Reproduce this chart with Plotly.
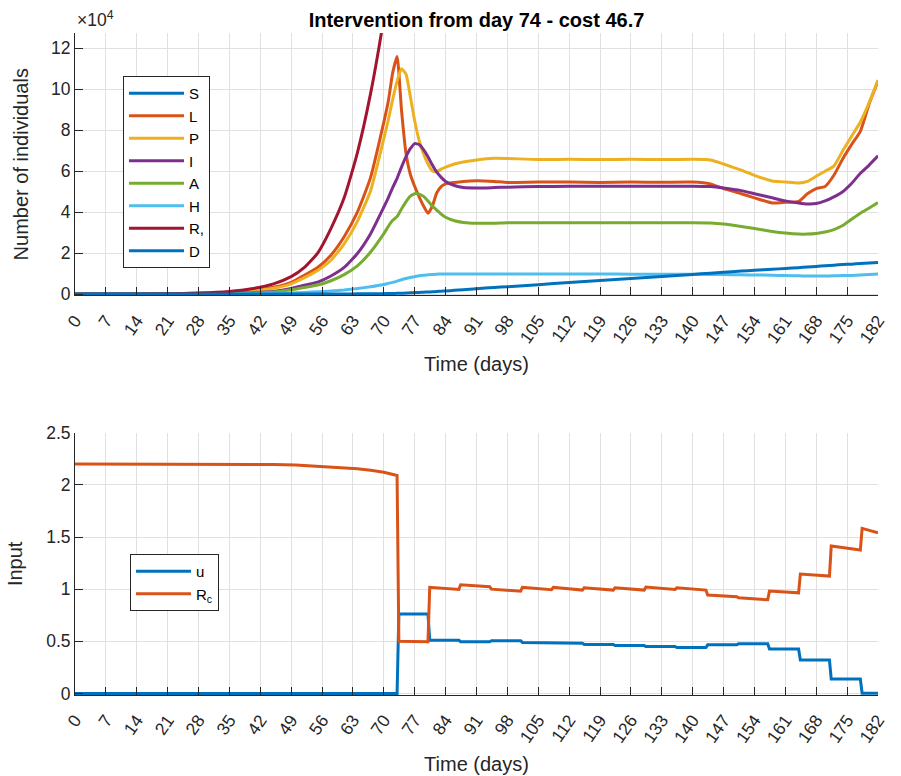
import numpy as np
import plotly.graph_objects as go

# ---------------- data (top panel) ----------------
days = [0, 7, 14, 21, 28, 35, 40, 45, 49, 52, 55, 58, 61, 64, 67, 70, 71, 72, 73, 74,
        75, 76, 77, 78, 79, 80, 81, 82, 83, 84, 86, 88, 91, 95, 98, 105, 112, 119, 126,
        133, 140, 144, 147, 151, 154, 158, 161, 164, 166, 168, 170, 172, 174, 176, 178,
        180, 182]

S_vals = [6.0e7] * len(days)  # susceptible: far above the visible range

# the following are read in units of 10^4 individuals
L_vals = [0.001, 0.002, 0.006, 0.014, 0.036, 0.09, 0.17, 0.33, 0.57, 0.92, 1.3, 1.9, 2.8,
          4.0, 5.7, 8.4, 9.4, 10.8, 11.6, 9.0, 6.9, 5.85, 5.25, 4.75, 4.3, 3.95, 4.3, 4.95,
          5.25, 5.38, 5.45, 5.5, 5.53, 5.5, 5.45, 5.47, 5.47, 5.45, 5.47, 5.46, 5.47, 5.38,
          5.15, 4.9, 4.7, 4.45, 4.48, 4.52, 4.9, 5.15, 5.25, 5.8, 6.6, 7.3, 7.95, 9.3, 10.4]

P_vals = [0.0008, 0.002, 0.005, 0.012, 0.03, 0.075, 0.14, 0.28, 0.5, 0.8, 1.15, 1.65, 2.45,
          3.55, 5.05, 7.6, 8.5, 9.5, 10.4, 11.0, 10.75, 9.65, 8.45, 7.5, 6.85, 6.35, 6.02,
          5.98, 6.1, 6.2, 6.35, 6.45, 6.55, 6.63, 6.62, 6.57, 6.58, 6.57, 6.58, 6.57, 6.58,
          6.55, 6.35, 6.05, 5.8, 5.52, 5.47, 5.42, 5.5, 5.75, 6.0, 6.25, 7.0, 7.7, 8.4, 9.35,
          10.45]

I_vals = [0.0003, 0.001, 0.002, 0.005, 0.012, 0.03, 0.065, 0.13, 0.27, 0.43, 0.58, 0.88, 1.3,
          1.98, 2.95, 4.25, 4.7, 5.2, 5.65, 6.2, 6.7, 7.1, 7.35, 7.3, 7.05, 6.7, 6.3, 5.95,
          5.7, 5.5, 5.3, 5.2, 5.18, 5.2, 5.22, 5.25, 5.26, 5.27, 5.27, 5.27, 5.27, 5.25, 5.18,
          5.05, 4.9, 4.7, 4.55, 4.45, 4.4, 4.42, 4.55, 4.75, 5.0, 5.4, 5.9, 6.3, 6.75]

A_vals = [0.0002, 0.0008, 0.002, 0.004, 0.01, 0.025, 0.05, 0.1, 0.21, 0.32, 0.44, 0.65, 0.95,
          1.38, 2.05, 2.95, 3.3, 3.6, 3.78, 4.15, 4.5, 4.78, 4.9, 4.88, 4.77, 4.55, 4.3, 4.1,
          3.9, 3.75, 3.58, 3.5, 3.46, 3.46, 3.48, 3.48, 3.48, 3.48, 3.48, 3.48, 3.48, 3.47,
          3.42, 3.3, 3.2, 3.06, 2.98, 2.93, 2.93, 2.96, 3.03, 3.15, 3.35, 3.65, 3.95, 4.2, 4.47]

H_vals = [0.0, 0.0, 0.0005, 0.001, 0.003, 0.008, 0.015, 0.03, 0.05, 0.08, 0.11, 0.15, 0.2,
          0.27, 0.36, 0.47, 0.52, 0.57, 0.63, 0.7, 0.76, 0.81, 0.85, 0.89, 0.92, 0.94, 0.96,
          0.97, 0.98, 0.98, 0.98, 0.98, 0.98, 0.98, 0.98, 0.98, 0.98, 0.98, 0.97, 0.97, 0.97,
          0.96, 0.95, 0.94, 0.93, 0.92, 0.9, 0.89, 0.88, 0.88, 0.88, 0.89, 0.9, 0.91, 0.93,
          0.95, 0.98]

R_vals = [0.001, 0.003, 0.008, 0.02, 0.05, 0.13, 0.26, 0.5, 0.85, 1.3, 2.0, 3.2, 4.7, 6.9,
          9.8, 13.5, 15.0, 16.5, 18.0, 19.5, 21.0, 22.5, 24.0, 25.5, 27.0, 28.5, 30.0, 31.5,
          33.0, 34.5, 37.0, 39.5, 43.0, 47.0, 50.0, 56.0, 62.0, 68.0, 74.0, 80.0, 86.0, 89.0,
          92.0, 95.0, 98.0, 101.0, 104.0, 107.0, 109.0, 111.0, 113.0, 115.0, 117.0, 119.0,
          121.0, 123.0, 125.0]

D_vals = [0.0, 0.0, 0.0, 0.0, 0.0, 0.0, 0.0005, 0.001, 0.0015, 0.002, 0.003, 0.004, 0.006,
          0.009, 0.013, 0.02, 0.025, 0.03, 0.035, 0.04, 0.05, 0.06, 0.07, 0.08, 0.09, 0.1,
          0.11, 0.125, 0.14, 0.15, 0.18, 0.21, 0.26, 0.32, 0.36, 0.46, 0.56, 0.66, 0.76, 0.86,
          0.96, 1.02, 1.06, 1.12, 1.16, 1.21, 1.25, 1.29, 1.32, 1.35, 1.38, 1.41, 1.44, 1.46,
          1.49, 1.52, 1.54]

SCALE = 1e4

# ---------------- data (bottom panel) ----------------
Rc_pre_days = [0, 30, 40, 45, 50, 55, 60, 64, 67, 70, 73]
Rc_pre_vals = [2.2, 2.2, 2.198, 2.195, 2.19, 2.18, 2.17, 2.155, 2.14, 2.12, 2.09]

week_starts = [73, 80, 87, 94, 101, 108, 115, 122, 129, 136, 143, 150, 157, 164, 171, 178]
u_week = [0.761, 0.511, 0.496, 0.505, 0.489, 0.482, 0.469, 0.459, 0.450, 0.440, 0.466,
          0.476, 0.427, 0.320, 0.138, 0.003]
Rc_week_start = [0.50, 1.017, 1.042, 1.0, 1.017, 1.017, 1.013, 1.013, 1.02, 1.013, 0.943,
                 0.917, 0.981, 1.145, 1.413, 1.583]
Rc_week_end = [0.495, 0.997, 1.023, 0.981, 0.994, 0.991, 0.991, 0.991, 0.997, 0.991, 0.927,
               0.898, 0.965, 1.125, 1.375, 1.541]
t_end = 182

x_ticks = list(range(0, 183, 7))
top_ticks = [0, 2, 4, 6, 8, 10, 12]
bot_ticks = [0, 0.5, 1, 1.5, 2, 2.5]
bot_tick_text = ["0", "0.5", "1", "1.5", "2", "2.5"]

# ---------------- bottom-panel polylines from the weekly values ----------------
JUMP = 0.4
u_x, u_y = [0], [0.0]
rc_x, rc_y = list(Rc_pre_days), list(Rc_pre_vals)
prev_u = 0.0
for i, ws in enumerate(week_starts):
    we = week_starts[i + 1] if i + 1 < len(week_starts) else t_end
    u_x += [ws, ws + JUMP, we]
    u_y += [prev_u, u_week[i], u_week[i]]
    prev_u = u_week[i]
    rc_x += [ws + JUMP, we]
    rc_y += [Rc_week_start[i], Rc_week_end[i]]

# ---------------- figure ----------------
C_BLUE = "#0072BD"
C_ORANGE = "#D95319"
C_YELLOW = "#EDB120"
C_PURPLE = "#7E2F8E"
C_GREEN = "#77AC30"
C_CYAN = "#4DBEEE"
C_RED = "#A2142F"
FONT = "Liberation Sans"
AX = "#262626"
GRID = "#e0e0e0"
LW = 3
TICK_FS = 17.5
LABEL_FS = 20

fig = go.Figure()
series = [("S", S_vals, C_BLUE, 1.0), ("L", L_vals, C_ORANGE, SCALE),
          ("P", P_vals, C_YELLOW, SCALE), ("I", I_vals, C_PURPLE, SCALE),
          ("A", A_vals, C_GREEN, SCALE), ("H", H_vals, C_CYAN, SCALE),
          ("R,", R_vals, C_RED, SCALE), ("D", D_vals, C_BLUE, SCALE)]
for name, vals, col, sc in series:
    fig.add_trace(go.Scatter(x=days, y=np.array(vals) * sc, mode="lines", name=name,
                             line=dict(color=col, width=LW, shape="spline", smoothing=0.5),
                             xaxis="x", yaxis="y", legend="legend"))

fig.add_trace(go.Scatter(x=u_x, y=u_y, mode="lines", name="u",
                         line=dict(color=C_BLUE, width=LW), xaxis="x2", yaxis="y2",
                         legend="legend2"))
fig.add_trace(go.Scatter(x=rc_x, y=rc_y, mode="lines", name="R<sub>c</sub>",
                         line=dict(color=C_ORANGE, width=LW), xaxis="x2", yaxis="y2",
                         legend="legend2"))

xcommon = dict(range=[0, 182], tickvals=x_ticks, ticktext=[str(t) for t in x_ticks],
               tickangle=-55, showline=True, linecolor=AX, linewidth=1, ticks="inside",
               ticklen=8, tickcolor=AX, showgrid=True, gridcolor=GRID, gridwidth=1,
               zeroline=False, ticklabelstandoff=7, automargin=False,
               tickfont=dict(family=FONT, size=TICK_FS, color=AX),
               title=dict(text="Time (days)", font=dict(family=FONT, size=LABEL_FS, color=AX),
                          standoff=11))
ycommon = dict(showline=True, linecolor=AX, linewidth=1, ticks="inside", ticklen=8,
               tickcolor=AX, showgrid=True, gridcolor=GRID, gridwidth=1, zeroline=False,
               automargin=False, tickfont=dict(family=FONT, size=TICK_FS, color=AX))

legend_common = dict(xanchor="left", yanchor="top", bgcolor="white", bordercolor=AX,
                     borderwidth=1, font=dict(family=FONT, size=15, color="black"),
                     tracegroupgap=0, itemwidth=55)

fig.update_layout(
    width=901, height=776,
    margin=dict(l=75, r=23, t=33, b=81, autoexpand=False),
    paper_bgcolor="white", plot_bgcolor="white",
    font=dict(family=FONT, color=AX),
    xaxis=dict(xcommon, domain=[0, 1], anchor="y"),
    yaxis=dict(ycommon, domain=[0.6035, 1.0], anchor="x",
               range=[-0.07 * SCALE, 12.75 * SCALE],
               tickvals=[t * SCALE for t in top_ticks], ticktext=[str(t) for t in top_ticks],
               title=dict(text="Number of individuals",
                          font=dict(family=FONT, size=LABEL_FS, color=AX), standoff=17)),
    xaxis2=dict(xcommon, domain=[0, 1], anchor="y2"),
    yaxis2=dict(ycommon, domain=[0, 0.3962], anchor="x2", range=[-0.015, 2.5],
                tickvals=bot_ticks, ticktext=bot_tick_text,
                title=dict(text="Input", font=dict(family=FONT, size=LABEL_FS, color=AX),
                           standoff=18)),
    legend=dict(legend_common, x=0.0598, y=0.935),
    legend2=dict(legend_common, x=0.0685, y=0.213),
    showlegend=True,
    title=dict(text="<b>Intervention from day 74 - cost 46.7</b>", x=0.5, xref="paper",
               xanchor="center", y=1 - 20 / 776, yref="container", yanchor="middle",
               font=dict(family=FONT, size=LABEL_FS, color="black")),
    annotations=[dict(text="×10<sup>4</sup>", xref="paper", yref="paper", x=0.0, y=1.0,
                      xanchor="left", yanchor="bottom", yshift=1, showarrow=False,
                      font=dict(family=FONT, size=17.5, color=AX))],
)

fig.write_html("out.html")
